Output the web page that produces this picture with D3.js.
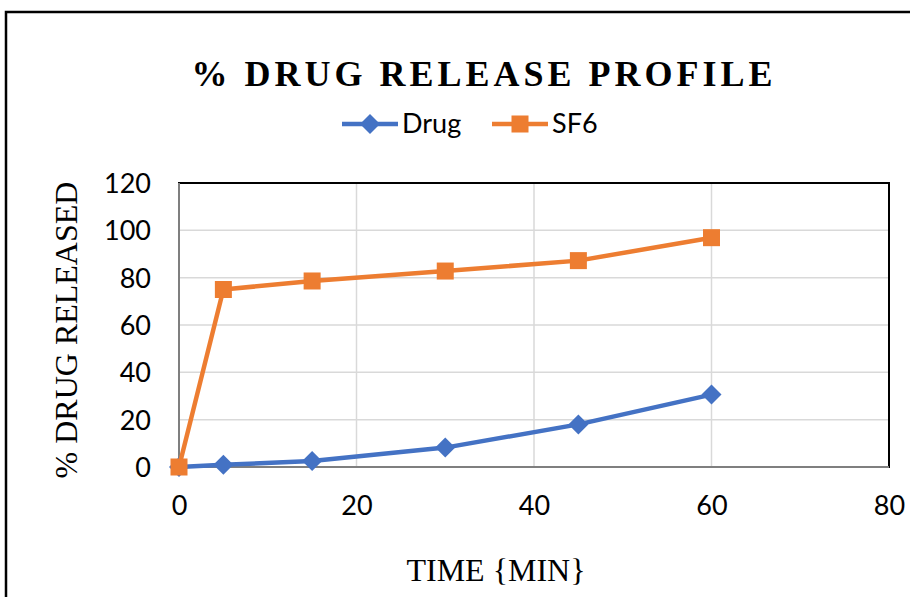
<!DOCTYPE html>
<meta charset="utf-8">
<script src="https://d3js.org/d3.v7.min.js"></script>
<style>
body { margin: 0; background: #fff; }
</style>
<div id="chart"></div>
<script>
// data
var times = [0, 5, 15, 30, 45, 60];
var drug = [0, 0.9, 2.5, 8.2, 18.0, 30.6];
var sf6 = [0, 75.0, 78.6, 82.8, 87.2, 96.9];
var xTicks = [0, 20, 40, 60, 80];
var yTicks = [0, 20, 40, 60, 80, 100, 120];

var W = 910, H = 597;
var margin = {top: 183, right: 21, bottom: 130, left: 179},
    width = W - margin.left - margin.right,
    height = H - margin.top - margin.bottom;

var svg = d3.select("#chart").append("svg")
  .attr("width", W)
  .attr("height", H);

// outer frame of the chart
svg.append("rect")
  .attr("x", 6).attr("y", 12)
  .attr("width", W + 10).attr("height", H + 10)
  .attr("fill", "none")
  .attr("stroke", "#000")
  .attr("stroke-width", 2.5);

var g = svg.append("g")
  .attr("transform", "translate(" + margin.left + "," + margin.top + ")");

var x = d3.scaleLinear().domain([0, 80]).range([0, width]);
var y = d3.scaleLinear().domain([0, 120]).range([height, 0]);

// grid
g.selectAll(".hgrid").data(yTicks).enter().append("line")
  .attr("x1", 0).attr("x2", width)
  .attr("y1", function(d) { return y(d); })
  .attr("y2", function(d) { return y(d); })
  .attr("stroke", "#d9d9d9").attr("stroke-width", 1.5);
g.selectAll(".vgrid").data(xTicks).enter().append("line")
  .attr("y1", 0).attr("y2", height)
  .attr("x1", function(d) { return x(d); })
  .attr("x2", function(d) { return x(d); })
  .attr("stroke", "#d9d9d9").attr("stroke-width", 1.5);

// plot border
g.append("rect")
  .attr("width", width).attr("height", height)
  .attr("fill", "none")
  .attr("stroke", "#000")
  .attr("stroke-width", 2);
g.append("line").attr("x1", 0).attr("x2", width).attr("y1", height).attr("y2", height)
  .attr("stroke", "#7f7f7f").attr("stroke-width", 2);
g.append("line").attr("x1", 0).attr("x2", 0).attr("y1", 0).attr("y2", height)
  .attr("stroke", "#7f7f7f").attr("stroke-width", 2);

// axes (labels only)
var xAxis = g.append("g")
  .attr("transform", "translate(0," + height + ")")
  .call(d3.axisBottom(x).tickValues(xTicks).tickSize(0).tickPadding(36));
var yAxis = g.append("g")
  .call(d3.axisLeft(y).tickValues(yTicks).tickSize(0).tickPadding(28));
[xAxis, yAxis].forEach(function(a) {
  a.select(".domain").remove();
  a.selectAll("text")
    .attr("font-family", "Lato, 'Liberation Sans', sans-serif")
    .attr("font-size", "27px")
    .attr("fill", "#000");
});
yAxis.selectAll("text").attr("dy", "0.35em");
xAxis.selectAll("text").attr("dy", "0.45em");

var line = d3.line()
  .x(function(d) { return x(d[0]); })
  .y(function(d) { return y(d[1]); });

var series = [
  {name: "Drug", values: drug, color: "#4472C4", marker: "diamond"},
  {name: "SF6", values: sf6, color: "#ED7D31", marker: "square"}
];

function drawMarker(sel, type, color) {
  if (type === "diamond") {
    sel.append("path")
      .attr("d", "M0,-10L10,0L0,10L-10,0Z")
      .attr("fill", color);
  } else {
    sel.append("rect")
      .attr("x", -8.5).attr("y", -8.5)
      .attr("width", 17).attr("height", 17)
      .attr("fill", color);
  }
}

series.forEach(function(s) {
  var pts = times.map(function(t, i) { return [t, s.values[i]]; });
  g.append("path")
    .datum(pts)
    .attr("d", line)
    .attr("fill", "none")
    .attr("stroke", s.color)
    .attr("stroke-width", 4.5)
    .attr("stroke-linejoin", "round");
  pts.forEach(function(p) {
    var m = g.append("g")
      .attr("transform", "translate(" + x(p[0]) + "," + y(p[1]) + ")");
    drawMarker(m, s.marker, s.color);
  });
});

// title
svg.append("text")
  .attr("x", 484).attr("y", 86)
  .attr("text-anchor", "middle")
  .attr("font-family", "'Liberation Serif', serif")
  .attr("font-weight", "bold")
  .attr("font-size", "36px")
  .attr("letter-spacing", "4px")
  .text("% DRUG RELEASE PROFILE");

// legend
var legend = svg.append("g");
var legX = [342, 492];
series.forEach(function(s, i) {
  var lg = legend.append("g").attr("transform", "translate(" + legX[i] + ",124)");
  lg.append("line").attr("x1", 0).attr("x2", 56)
    .attr("stroke", s.color).attr("stroke-width", 4.5);
  var m = lg.append("g").attr("transform", "translate(28,0)");
  drawMarker(m, s.marker, s.color);
  lg.append("text")
    .attr("x", 60).attr("dy", "0.35em")
    .attr("font-family", "Lato, 'Liberation Sans', sans-serif")
    .attr("font-size", "27px")
    .text(s.name);
});

// axis titles
svg.append("text")
  .attr("x", 496).attr("y", 581)
  .attr("text-anchor", "middle")
  .attr("font-family", "'Liberation Serif', serif")
  .attr("font-size", "32px")
  .text("TIME {MIN}");

svg.append("text")
  .attr("transform", "translate(77,330) rotate(-90)")
  .attr("text-anchor", "middle")
  .attr("font-family", "'Liberation Serif', serif")
  .attr("font-size", "32px")
  .text("% DRUG RELEASED");
</script>
